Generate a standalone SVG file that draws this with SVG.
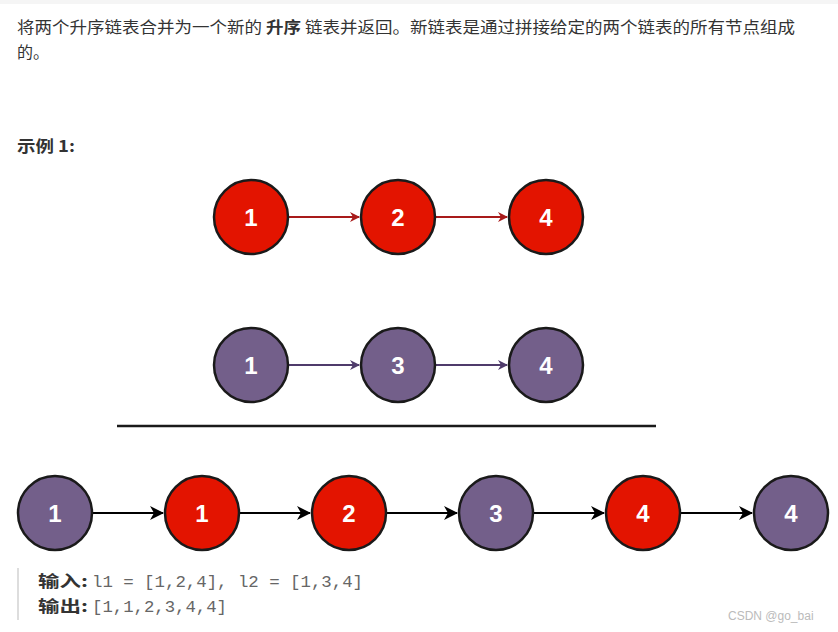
<svg xmlns="http://www.w3.org/2000/svg" width="838" height="632" viewBox="0 0 838 632">
<style>
.t{font-family:"Noto Sans CJK SC","Liberation Sans",sans-serif;font-size:16px;fill:#333}
.b{font-weight:bold}
.red{fill:#e31400;stroke:#1a1a1a;stroke-width:2.5}
.pur{fill:#735f8a;stroke:#1a1a1a;stroke-width:2.5}
.n{font-family:"Liberation Sans",Arial,sans-serif;font-size:24px;font-weight:bold;fill:#fff;text-anchor:middle}
.m{font-family:"Liberation Mono",monospace;font-size:16px;fill:#666}
</style>
<defs>
<marker id="ar" markerWidth="10" markerHeight="10" refX="9" refY="5" orient="auto" markerUnits="userSpaceOnUse"><path d="M0,0 L10,5 L0,10 L3,5z" fill="#a81a1a"/></marker>
<marker id="ap" markerWidth="10" markerHeight="10" refX="9" refY="5" orient="auto" markerUnits="userSpaceOnUse"><path d="M0,0 L10,5 L0,10 L3,5z" fill="#4f3b6b"/></marker>
<marker id="ak" markerWidth="14" markerHeight="14" refX="13" refY="7" orient="auto" markerUnits="userSpaceOnUse"><path d="M0,0 L14,7 L0,14 L4,7z" fill="#000"/></marker>
</defs>
<rect width="838" height="632" fill="#fff"/>
<rect width="838" height="4" fill="#f5f5f5"/>
<text class="t" x="17" y="33" textLength="778" lengthAdjust="spacingAndGlyphs">将两个升序链表合并为一个新的 <tspan class="b">升序</tspan> 链表并返回。新链表是通过拼接给定的两个链表的所有节点组成</text>
<text class="t" x="17" y="58">的。</text>
<text class="t b" x="17" y="152" textLength="58" lengthAdjust="spacingAndGlyphs">示例 1:</text>
<g id="connectors">
<line x1="289" y1="217" x2="359" y2="217" stroke="#a81a1a" stroke-width="2" marker-end="url(#ar)"/>
<line x1="436" y1="217" x2="507" y2="217" stroke="#a81a1a" stroke-width="2" marker-end="url(#ar)"/>
<line x1="289" y1="365" x2="359" y2="365" stroke="#4f3b6b" stroke-width="2" marker-end="url(#ap)"/>
<line x1="436" y1="365" x2="507" y2="365" stroke="#4f3b6b" stroke-width="2" marker-end="url(#ap)"/>
<line x1="93" y1="513" x2="163" y2="513" stroke="#000" stroke-width="2" marker-end="url(#ak)"/>
<line x1="240" y1="513" x2="310" y2="513" stroke="#000" stroke-width="2" marker-end="url(#ak)"/>
<line x1="387" y1="513" x2="457" y2="513" stroke="#000" stroke-width="2" marker-end="url(#ak)"/>
<line x1="534" y1="513" x2="604" y2="513" stroke="#000" stroke-width="2" marker-end="url(#ak)"/>
<line x1="681" y1="513" x2="752" y2="513" stroke="#000" stroke-width="2" marker-end="url(#ak)"/>
</g>
<line x1="117" y1="426" x2="656" y2="426" stroke="#1a1a1a" stroke-width="2.5"/>
<g id="a1"><circle class="red" cx="251" cy="217" r="37"/><text class="n" x="251" y="226">1</text></g>
<g id="a2"><circle class="red" cx="398" cy="217" r="37"/><text class="n" x="398" y="226">2</text></g>
<g id="a4"><circle class="red" cx="546" cy="217" r="37"/><text class="n" x="546" y="226">4</text></g>
<g id="b1"><circle class="pur" cx="251" cy="365" r="37"/><text class="n" x="251" y="374">1</text></g>
<g id="b3"><circle class="pur" cx="398" cy="365" r="37"/><text class="n" x="398" y="374">3</text></g>
<g id="b4"><circle class="pur" cx="546" cy="365" r="37"/><text class="n" x="546" y="374">4</text></g>
<g id="c1"><circle class="pur" cx="55" cy="513" r="37"/><text class="n" x="55" y="522">1</text></g>
<g id="c2"><circle class="red" cx="202" cy="513" r="37"/><text class="n" x="202" y="522">1</text></g>
<g id="c3"><circle class="red" cx="349" cy="513" r="37"/><text class="n" x="349" y="522">2</text></g>
<g id="c4"><circle class="pur" cx="496" cy="513" r="37"/><text class="n" x="496" y="522">3</text></g>
<g id="c5"><circle class="red" cx="643" cy="513" r="37"/><text class="n" x="643" y="522">4</text></g>
<g id="c6"><circle class="pur" cx="791" cy="513" r="37"/><text class="n" x="791" y="522">4</text></g>
<rect x="17" y="568" width="2" height="52" fill="#ddd"/>
<text class="t b" x="38" y="587" textLength="50" lengthAdjust="spacingAndGlyphs">输入:</text>
<text class="m" x="92" y="587" textLength="271" lengthAdjust="spacingAndGlyphs">l1 = [1,2,4], l2 = [1,3,4]</text>
<text class="t b" x="38" y="612" textLength="50" lengthAdjust="spacingAndGlyphs">输出:</text>
<text class="m" x="92" y="612" textLength="135" lengthAdjust="spacingAndGlyphs">[1,1,2,3,4,4]</text>
<text x="728" y="620" font-family="Liberation Sans,sans-serif" font-size="12" fill="#bbb">CSDN @go_bai</text>
</svg>
